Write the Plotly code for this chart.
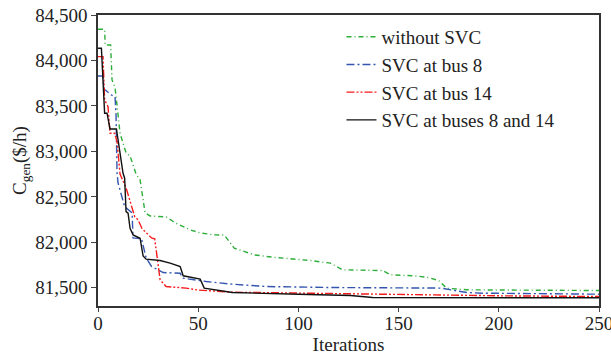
import plotly.graph_objects as go

# ---- data ----
green_x = [0, 3.3, 3.6, 6.3, 7, 8.5, 9.2, 11, 14, 16, 19, 21, 23.5, 26, 34, 39, 46, 51, 58, 63, 68, 73, 78, 87, 106, 116, 122, 142, 146, 159, 165, 170, 174, 184, 250]
green_y = [84343, 84343, 84170, 84170, 83786, 83700, 83566, 83200, 82983, 82950, 82750, 82687, 82324, 82290, 82280, 82210, 82137, 82104, 82082, 82080, 81936, 81898, 81862, 81837, 81800, 81771, 81698, 81690, 81643, 81630, 81613, 81580, 81496, 81478, 81470]

blue_x = [0, 2.5, 3, 6.7, 8.5, 9, 9.5, 10, 13.3, 17, 17.5, 21.7, 24, 26.7, 32.5, 41, 42.5, 51, 54, 67, 84, 117, 171, 184, 192, 250]
blue_y = [83830, 83830, 83687, 83620, 83600, 83400, 82763, 82654, 82393, 82324, 82049, 82040, 81830, 81735, 81668, 81660, 81606, 81575, 81569, 81540, 81514, 81503, 81497, 81448, 81441, 81430]

red_x = [0, 2.5, 3.3, 5, 6, 8.3, 9.5, 11, 14, 18.3, 20, 22, 26.7, 28.3, 31, 34, 44, 50, 67, 100, 150, 200, 250]
red_y = [84042, 84042, 83566, 83492, 83200, 83200, 83108, 82750, 82600, 82284, 82247, 82150, 82049, 82040, 81588, 81514, 81497, 81475, 81452, 81441, 81423, 81412, 81404]

black_x = [0, 1.7, 3.3, 4.5, 6, 9.2, 12.5, 13.3, 14, 15, 16, 17.5, 21, 22.5, 24, 31, 36, 41, 42.5, 47.5, 51, 53, 67, 100, 126, 137, 250]
black_y = [84134, 84134, 83420, 83420, 83247, 83247, 82760, 82705, 82338, 82320, 82155, 82082, 82045, 81851, 81815, 81800, 81771, 81734, 81632, 81613, 81595, 81497, 81448, 81430, 81415, 81393, 81390]

names = ["without SVC", "SVC at bus 8", "SVC at bus 14", "SVC at buses 8 and 14"]
x_ticks = [0, 50, 100, 150, 200, 250]
y_ticks = [81500, 82000, 82500, 83000, 83500, 84000, 84500]

FONT = "Liberation Serif"

fig = go.Figure()
series = [
    (green_x, green_y, names[0], "#2eae3a", "5px,3px,1px,3px"),
    (blue_x, blue_y, names[1], "#3556b0", "8px,3px,2px,3px"),
    (red_x, red_y, names[2], "#f41c1c", "8px,2px,2px,2px,2px,2px"),
    (black_x, black_y, names[3], "#111111", "solid"),
]
for xs, ys, nm, col, dash in series:
    fig.add_trace(go.Scatter(x=xs, y=ys, name=nm, mode="lines",
                             line=dict(color=col, width=1.4, dash=dash)))

fig.update_layout(
    width=611, height=358,
    margin=dict(l=98, r=12, t=15, b=52),
    plot_bgcolor="white", paper_bgcolor="white",
    font=dict(family=FONT, size=17, color="#222"),
    showlegend=True,
    legend=dict(x=0.486, y=0.99, xanchor="left", yanchor="top",
                bgcolor="rgba(0,0,0,0)", font=dict(size=19, family=FONT, color="#222"),
                itemwidth=30, tracegroupgap=0),
)
fig.update_xaxes(range=[0, 250], tickvals=x_ticks, ticks="outside", ticklen=4,
                 showline=True, linecolor="#333", linewidth=1.5, mirror=True,
                 showgrid=False, zeroline=False, automargin=False,
                 ticklabeloverflow="allow", ticklabelstandoff=-5,
                 title=dict(text="Iterations", font=dict(size=19), standoff=4),
                 tickfont=dict(size=19))
fig.update_yaxes(range=[81300, 84500], tickvals=y_ticks, tickformat=",d", ticks="outside", ticklen=5,
                 showline=True, linecolor="#333", linewidth=1.5, mirror=True,
                 showgrid=False, zeroline=False, automargin=False,
                 ticklabeloverflow="allow",
                 title=dict(text="C<sub>gen</sub>($/h)", font=dict(size=19), standoff=4),
                 tickfont=dict(size=19))

fig.write_html("out.html")
